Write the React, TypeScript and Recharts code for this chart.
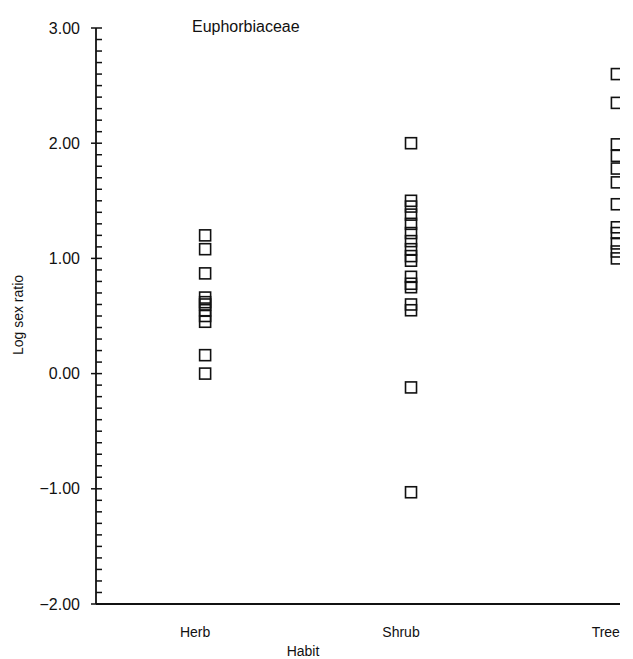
import React from 'react';
import { ScatterChart, Scatter, XAxis, YAxis } from 'recharts';

// habit categories, placed at 1, 2, 3 on a numeric x axis
const habits = ['Herb', 'Shrub', 'Tree'];

// log sex ratio per species
const herbValues = [1.2, 1.08, 0.87, 0.66, 0.62, 0.6, 0.55, 0.5, 0.45, 0.16, 0.0];
const shrubValues = [2.0, 1.5, 1.45, 1.38, 1.3, 1.22, 1.15, 1.08, 1.02, 0.98, 0.84, 0.78, 0.75, 0.6, 0.55, -0.12, -1.03];
const treeValues = [2.6, 2.35, 1.99, 1.89, 1.78, 1.66, 1.47, 1.27, 1.22, 1.13, 1.06, 1.0];

const majorTicks = [-2, -1, 0, 1, 2, 3];
const yLabels = ['\u22122.00', '\u22121.00', '0.00', '1.00', '2.00', '3.00'];

// every 0.1 between -2 and 3
const allTicks: number[] = [];
for (let i = -20; i <= 30; i++) allTicks.push(i / 10);

const toPoints = (values: number[], idx: number) => values.map((v) => ({ x: idx + 1, y: v }));

const FONT = 'Liberation Sans, Arial, sans-serif';

const OpenSquare = (props: any) => {
  const { cx, cy } = props;
  if (cx == null || cy == null) return null;
  const s = 11;
  return (
    <rect x={cx - s / 2} y={cy - s / 2} width={s} height={s} fill="none" stroke="#111" strokeWidth={1.6} />
  );
};

const YTick = (props: any) => {
  const { x, y, payload } = props;
  const v = Math.round(payload.value * 10) / 10;
  const major = Number.isInteger(v);
  const i = majorTicks.indexOf(v);
  return (
    <g>
      <line x1={major ? x - 5 : x} x2={x + 6} y1={y} y2={y} stroke="#111" strokeWidth={1.5} />
      {major && (
        <text x={x - 16} y={y} dy="0.35em" textAnchor="end" fontSize={16} fontFamily={FONT} fill="#111">
          {yLabels[i]}
        </text>
      )}
    </g>
  );
};

const XTick = (props: any) => {
  const { x, y, payload } = props;
  const i = Math.round(payload.value) - 1;
  const isLast = i === habits.length - 1;
  return (
    <text
      x={isLast ? x + 3 : x - 10}
      y={y + 33}
      textAnchor={isLast ? 'end' : 'middle'}
      fontSize={14}
      fontFamily={FONT}
      fill="#111"
    >
      {habits[i]}
    </text>
  );
};

export default function App() {
  return (
    <div style={{ position: 'absolute', left: 0, top: 0, width: 633, height: 659, background: '#fff' }}>
      <ScatterChart width={633} height={659} margin={{ top: 28, right: 13, bottom: 0, left: 0 }}>
        <XAxis
          type="number"
          dataKey="x"
          domain={[0.47, 3.015]}
          ticks={[1, 2, 3]}
          allowDataOverflow
          height={55}
          tickSize={0}
          tickMargin={0}
          tick={<XTick />}
          axisLine={{ stroke: '#111', strokeWidth: 2 }}
        />
        <YAxis
          type="number"
          dataKey="y"
          domain={[-2, 3]}
          ticks={allTicks}
          interval={0}
          allowDataOverflow
          width={96}
          tickSize={0}
          tickMargin={0}
          tick={<YTick />}
          axisLine={{ stroke: '#111', strokeWidth: 1.8 }}
        />
        <Scatter data={toPoints(herbValues, 0)} shape={<OpenSquare />} isAnimationActive={false} />
        <Scatter data={toPoints(shrubValues, 1)} shape={<OpenSquare />} isAnimationActive={false} />
        <Scatter data={toPoints(treeValues, 2)} shape={<OpenSquare />} isAnimationActive={false} />
      </ScatterChart>
      <div style={{ position: 'absolute', left: 192, top: 18, fontFamily: FONT, fontSize: 16, color: '#111' }}>
        Euphorbiaceae
      </div>
      <div
        style={{
          position: 'absolute',
          left: 18,
          top: 315,
          fontFamily: FONT,
          fontSize: 14,
          color: '#111',
          whiteSpace: 'nowrap',
          transform: 'translate(-50%, -50%) rotate(-90deg)',
        }}
      >
        Log sex ratio
      </div>
      <div
        style={{
          position: 'absolute',
          left: 303,
          top: 651,
          fontFamily: FONT,
          fontSize: 14,
          color: '#111',
          transform: 'translate(-50%, -50%)',
        }}
      >
        Habit
      </div>
    </div>
  );
}
